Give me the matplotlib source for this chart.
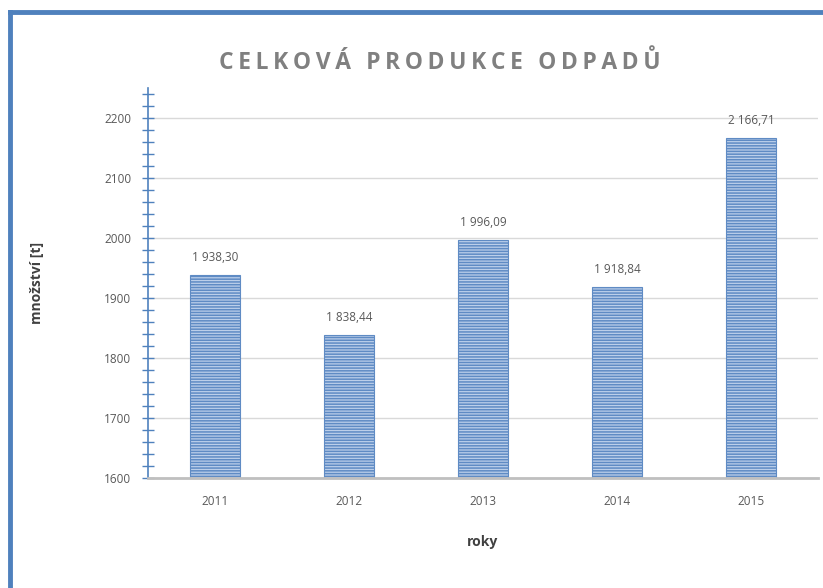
import matplotlib.pyplot as plt
import numpy as np
from matplotlib.lines import Line2D
from matplotlib.ticker import MultipleLocator
from matplotlib import rcParams

rcParams['font.family'] = ['Open Sans', 'DejaVu Sans']
rcParams['hatch.linewidth'] = 1.1

years = ['2011', '2012', '2013', '2014', '2015']
values = [1938.30, 1838.44, 1996.09, 1918.84, 2166.71]

blue = '#4f81bd'
grey_txt = '#595959'

fig = plt.figure(figsize=(8.23, 5.88), dpi=100)
ax = fig.add_axes([0.1798, 0.187, 0.814, 0.663])

x = np.arange(len(years))
ax.bar(x, values, width=0.37, bottom=0, color='#bccfea', edgecolor='#5f8bc4',
       hatch='------', linewidth=0.8, zorder=3)

def fmt(v):
    s = f'{v:,.2f}'
    return s.replace(',', ' ').replace('.', ',')

for xi, v in zip(x, values):
    ax.annotate(fmt(v), (xi, v), xytext=(0, 8), textcoords='offset points',
                ha='center', va='bottom', fontsize=8.5, color=grey_txt)

ax.set_xlim(-0.5, 4.5)
ax.set_ylim(1600, 2250)
ax.set_xticks(x)
ax.set_xticklabels(years)
ax.set_yticks([1600, 1700, 1800, 1900, 2000, 2100, 2200])
ax.yaxis.set_minor_locator(MultipleLocator(20))
ax.tick_params(axis='y', which='both', direction='inout', color=blue,
               length=8, width=1, labelsize=8.5, labelcolor=grey_txt, pad=8)
ax.tick_params(axis='x', length=0, labelsize=8.5, labelcolor=grey_txt, pad=12)

ax.grid(axis='y', color='#d9d9d9', linewidth=1, zorder=0)
for s in ['top', 'right']:
    ax.spines[s].set_visible(False)
ax.spines['left'].set_color(blue)
ax.spines['left'].set_linewidth(1.2)
ax.spines['bottom'].set_color('#bfbfbf')
ax.spines['bottom'].set_linewidth(2)
ax.spines['bottom'].set_zorder(4)

ax.set_ylabel('množství [t]', fontsize=10, fontweight='bold', color='#404040', labelpad=43)
ax.set_xlabel('roky', fontsize=10, fontweight='bold', color='#404040', labelpad=20)

title = 'CELKOVÁ PRODUKCE ODPADŮ'
fig.text(0.534, 0.893, '\u2009'.join(title), ha='center', va='center',
         fontsize=16.5, fontweight='bold', color='#808080')

# blue frame (top and left edges)
fig.add_artist(Line2D([10 / 823, 1], [1 - 12 / 588, 1 - 12 / 588], color=blue, lw=3.5))
fig.add_artist(Line2D([10 / 823, 10 / 823], [0, 1 - 12 / 588], color=blue, lw=3.5))

fig.savefig('out.png', dpi=100)
